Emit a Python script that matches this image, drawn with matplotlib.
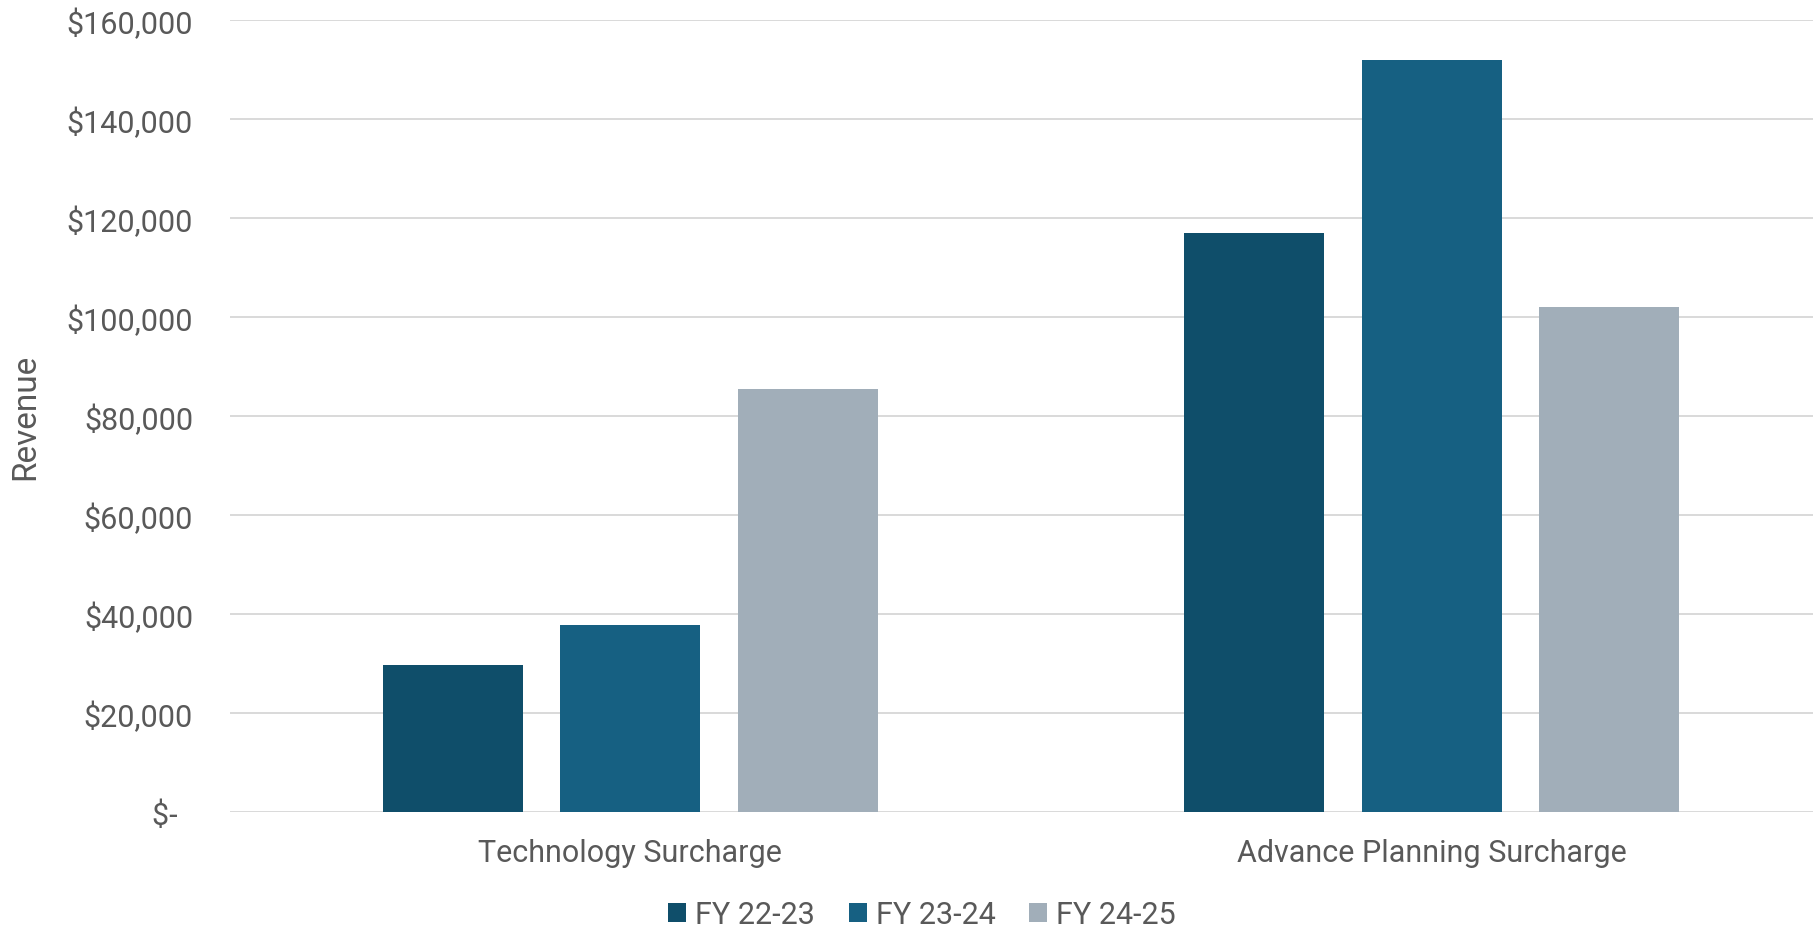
import matplotlib.pyplot as plt
import numpy as np
from matplotlib.ticker import FuncFormatter

categories = ["Technology Surcharge", "Advance Planning Surcharge"]
series_names = ["FY 22-23", "FY 23-24", "FY 24-25"]
fy_22_23 = [29700, 117000]
fy_23_24 = [37700, 151900]
fy_24_25 = [85400, 102100]
colors = ["#0F4E6A", "#166082", "#A1AEB9"]

plt.rcParams['font.family'] = ['Roboto', 'DejaVu Sans']
text_color = "#595959"
fs = 22

fig = plt.figure(figsize=(18.13, 9.29), dpi=100)
ax = fig.add_axes([230 / 1813, 1 - 813 / 929, 1 - 230 / 1813, (813 - 21) / 929])

x = np.arange(len(categories))
width = 0.1747
step = 0.2218
for i, (vals, name) in enumerate(zip([fy_22_23, fy_23_24, fy_24_25], series_names)):
    ax.bar(x + (i - 1) * step, vals, width, color=colors[i], label=name, zorder=3)

ax.set_ylim(0, 160000)
ax.set_xlim(-0.4997, 1.4758)
ax.set_yticks(np.arange(0, 160001, 20000))
ax.yaxis.set_major_formatter(FuncFormatter(lambda v, p: "$-  " if v == 0 else f"${v:,.0f}"))
ax.set_xticks(x)
ax.set_xticklabels(categories)

ax.grid(axis='y', color="#D9D9D9", linewidth=1.4, zorder=0)
for s in ax.spines.values():
    s.set_visible(False)
ax.tick_params(axis='both', length=0, labelsize=fs, labelcolor=text_color)
ax.tick_params(axis='y', pad=26.6)
ax.tick_params(axis='x', pad=19)

ax.set_ylabel("Revenue", fontsize=24, color=text_color)
ax.yaxis.set_label_coords(-0.119, 0.5)

leg = fig.legend(loc='center', bbox_to_anchor=(922 / 1813, 1 - 916 / 929), ncol=3,
                 frameon=False, fontsize=fs, handlelength=0.59, handleheight=0.59,
                 handletextpad=0.3, columnspacing=1.1)
for t in leg.get_texts():
    t.set_color(text_color)

fig.savefig("out.png", dpi=100)
